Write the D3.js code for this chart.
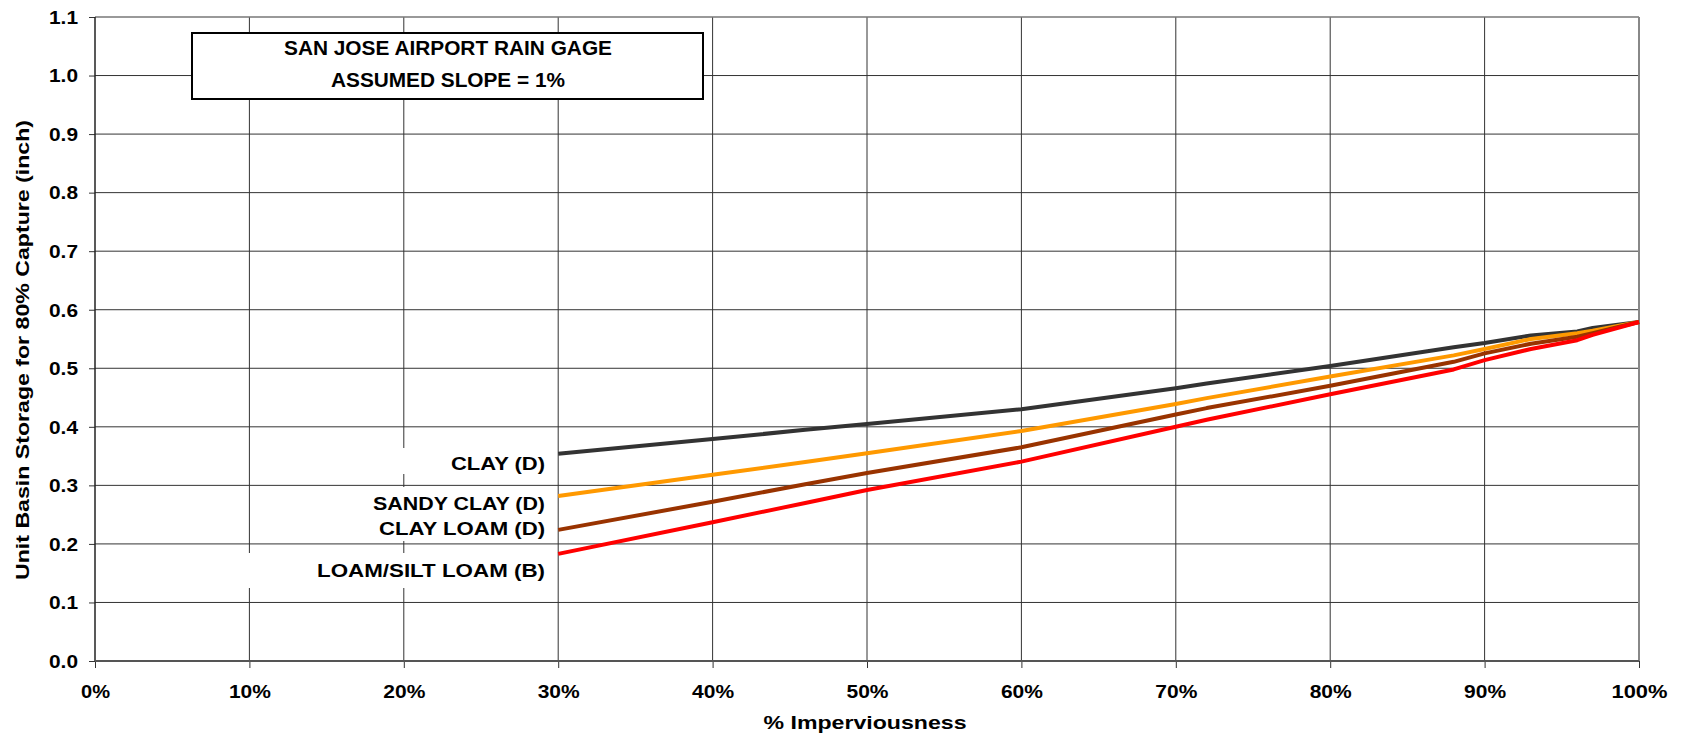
<!DOCTYPE html>
<html><head><meta charset="utf-8">
<script src="https://cdn.jsdelivr.net/npm/d3@7"></script>
<style>
body{margin:0;background:#fff;}
text{font-family:"Liberation Sans",Arial,sans-serif;font-weight:bold;fill:#000;}
</style></head>
<body><svg id="c" width="1683" height="739"></svg>
<script>
const imperviousness = [30, 40, 46, 50, 60, 70, 72, 80, 88, 90, 93, 96, 97, 100];
const clay       = [0.354, 0.379, 0.395, 0.405, 0.430, 0.466, 0.474, 0.504, 0.536, 0.543, 0.556, 0.563, 0.569, 0.579];
const sandyClay  = [0.282, 0.318, 0.340, 0.355, 0.393, 0.439, 0.449, 0.486, 0.522, 0.533, 0.550, 0.560, 0.564, 0.579];
const clayLoam   = [0.224, 0.272, 0.302, 0.321, 0.365, 0.421, 0.432, 0.470, 0.511, 0.5255, 0.542, 0.554, 0.560, 0.579];
const loamSilt   = [0.183, 0.237, 0.270, 0.292, 0.3405, 0.400, 0.412, 0.4555, 0.498, 0.514, 0.533, 0.548, 0.557, 0.579];
const seriesNames = ["CLAY (D)", "SANDY CLAY (D)", "CLAY LOAM (D)", "LOAM/SILT LOAM (B)"];
const seriesColors = ["#333333", "#FF9900", "#993300", "#FF0000"];
const xTicks = [0,10,20,30,40,50,60,70,80,90,100];
const yTicks = [0,0.1,0.2,0.3,0.4,0.5,0.6,0.7,0.8,0.9,1.0,1.1];
const titleLines = ["SAN JOSE AIRPORT  RAIN GAGE", "ASSUMED SLOPE = 1%"];
const xTitle = "% Imperviousness";
const yTitle = "Unit Basin Storage for 80% Capture (inch)";

const svg = d3.select("#c");
const L=95, R=1639, T=17, B=661;
const x = d3.scaleLinear().domain([0,100]).range([L,R]);
const y = d3.scaleLinear().domain([0,1.1]).range([B,T]);

// vertical gridlines
svg.append("g").selectAll("line").data(xTicks.slice(1,-1)).join("line")
  .attr("x1",d=>x(d)).attr("x2",d=>x(d)).attr("y1",T).attr("y2",B)
  .attr("stroke","#333").attr("stroke-width",1);

// white boxes behind labels (cover vertical gridlines)
const boxes = [[300,448,252,26],[300,487,252,54],[236,553,316,35]];
svg.append("g").selectAll("rect").data(boxes).join("rect")
  .attr("x",d=>d[0]).attr("y",d=>d[1]).attr("width",d=>d[2]).attr("height",d=>d[3])
  .attr("fill","#fff");

// horizontal gridlines
svg.append("g").selectAll("line").data(yTicks.slice(1,-1)).join("line")
  .attr("x1",L).attr("x2",R).attr("y1",d=>y(d)).attr("y2",d=>y(d))
  .attr("stroke","#333").attr("stroke-width",1);

// plot border top/right
svg.append("line").attr("x1",L).attr("x2",R).attr("y1",T).attr("y2",T).attr("stroke","#777").attr("stroke-width",1.5);
svg.append("line").attr("x1",R).attr("x2",R).attr("y1",T).attr("y2",B).attr("stroke","#888").attr("stroke-width",2);

// axes
const yAxis = svg.append("g").attr("transform",`translate(${L},0)`)
  .call(d3.axisLeft(y).tickValues(yTicks).tickSize(6).tickFormat(d3.format(".1f")));
const xAxis = svg.append("g").attr("transform",`translate(0,${B})`)
  .call(d3.axisBottom(x).tickValues(xTicks).tickSize(7).tickFormat(d=>d+"%"));
[yAxis,xAxis].forEach(a=>{a.select(".domain").remove();a.selectAll("line").attr("stroke","#333");});
svg.append("line").attr("x1",L).attr("x2",L).attr("y1",T).attr("y2",B).attr("stroke","#222").attr("stroke-width",1.5);
svg.append("line").attr("x1",L).attr("x2",R).attr("y1",B).attr("y2",B).attr("stroke","#555").attr("stroke-width",2);

yAxis.selectAll("text").attr("font-size",18).attr("font-family","Liberation Sans, Arial")
  .attr("font-weight","bold").attr("fill","#000").attr("x",-17).attr("dy","0.35em")
  .attr("textLength",29).attr("lengthAdjust","spacingAndGlyphs");
xAxis.selectAll("text").attr("font-size",19).attr("font-family","Liberation Sans, Arial")
  .attr("font-weight","bold").attr("fill","#000").attr("y",24).attr("dy","0.71em")
  .each(function(d){ d3.select(this).attr("textLength", d===100?56:(d===0?29:42)).attr("lengthAdjust","spacingAndGlyphs"); });

// series lines
const series = [clay, sandyClay, clayLoam, loamSilt];
const line = d3.line().x((d,i)=>x(imperviousness[i])).y(d=>y(d));
svg.append("g").selectAll("path").data(series).join("path")
  .attr("d",d=>line(d)).attr("fill","none")
  .attr("stroke",(d,i)=>seriesColors[i]).attr("stroke-width",4)
  .attr("stroke-linejoin","round");

// series labels
const labelPos = [[470,94],[510,172],[535,166],[577,228]];
svg.append("g").selectAll("text").data(seriesNames).join("text")
  .attr("x",545).attr("y",(d,i)=>labelPos[i][0]).attr("text-anchor","end")
  .attr("font-size",19).attr("textLength",(d,i)=>labelPos[i][1]).attr("lengthAdjust","spacingAndGlyphs")
  .text(d=>d);

// annotation box
svg.append("rect").attr("x",192).attr("y",33).attr("width",511).attr("height",66)
  .attr("fill","#fff").attr("stroke","#000").attr("stroke-width",2);
const tl = [[55,328],[87,234]];
svg.append("g").selectAll("text").data(titleLines).join("text")
  .attr("x",448).attr("y",(d,i)=>tl[i][0]).attr("text-anchor","middle")
  .attr("font-size",20).attr("textLength",(d,i)=>tl[i][1]).attr("lengthAdjust","spacingAndGlyphs")
  .text(d=>d);

// axis titles
svg.append("text").attr("x",865).attr("y",729).attr("text-anchor","middle")
  .attr("font-size",19).attr("textLength",203).attr("lengthAdjust","spacingAndGlyphs").text(xTitle);
svg.append("text").attr("transform","translate(29,350) rotate(-90)").attr("text-anchor","middle")
  .attr("font-size",19).attr("textLength",460).attr("lengthAdjust","spacingAndGlyphs").text(yTitle);
</script></body></html>
